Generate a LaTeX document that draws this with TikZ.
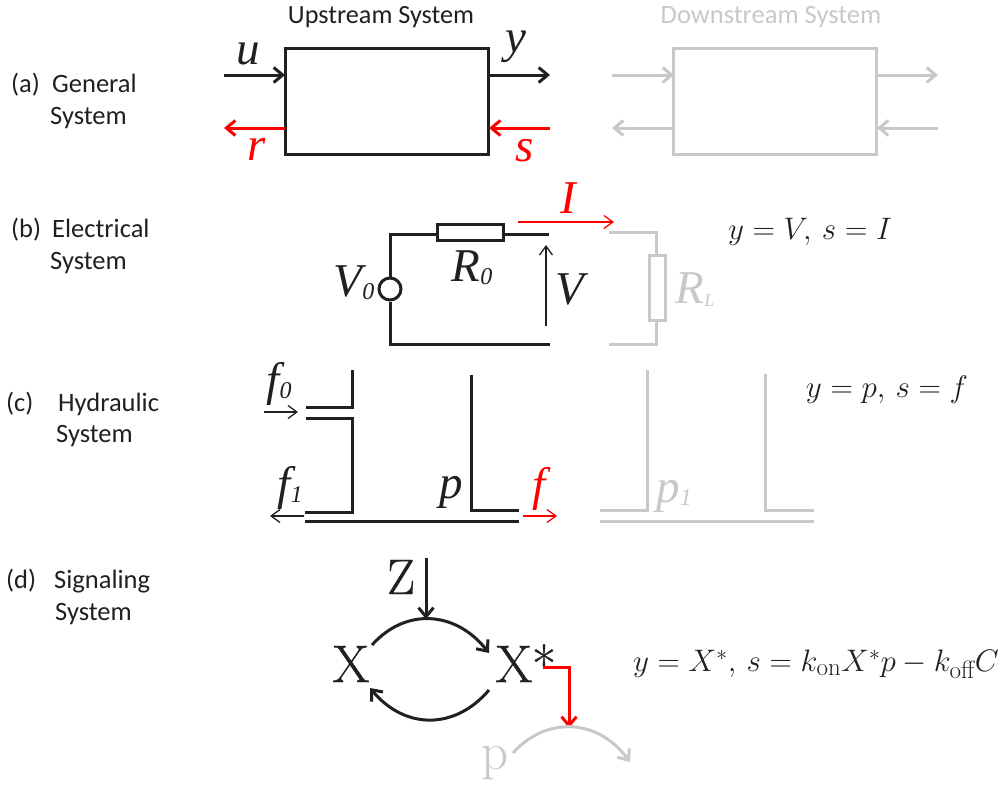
\documentclass[tikz,border=0pt]{standalone}
\usepackage{graphicx}
\usepackage{fontspec}
\setmainfont{Carlito}
\newfontfamily\timesf{Liberation Serif}
\newfontfamily\lmf{Latin Modern Roman}
\newfontfamily\lmb{Latin Modern Roman}[FakeBold=0.6]
\usetikzlibrary{arrows.meta}
\definecolor{ink}{RGB}{32,32,32}
\definecolor{ghost}{RGB}{200,200,200}
\definecolor{sig}{RGB}{255,0,0}
\tikzset{
 x=1pt,y=-1pt,
 lab/.style={font=\fontsize{26.5}{28}\selectfont,anchor=base west,text=ink,inner sep=0},
 var/.style={inner sep=0,text=ink},
 thick line/.style={line width=3pt,draw=ink},
 ghostline/.style={line width=3pt,draw=ghost},
 redline/.style={line width=3pt,draw=sig},
 tip/.style={-{Straight Barb[length=9pt,width=15pt,line width=3pt]}},
 thintip/.style={-{Straight Barb[length=9pt,width=13pt,line width=1.3pt]},line width=1.3pt},
}
\newcommand{\tvar}[2]{\fontsize{#1}{#1}\selectfont\timesf\itshape #2}
\newcommand{\tsub}[2]{\raisebox{-3pt}{\fontsize{#1}{#1}\selectfont\timesf\itshape #2}}
\newcommand{\eqtext}[1]{\hbox{\fontsize{20}{20}\selectfont\lmf #1}}
\newcommand{\eqn}[1]{\scalebox{1.25}{\fontsize{24}{26}\selectfont\ensuremath{#1}}}
\begin{document}
\begin{tikzpicture}
\useasboundingbox (0,0) rectangle (1000,790);
% labels
\node[lab] (la) at (11,92) {(a)};
\node[lab] (la1) at (52,92) {General};
\node[lab] (la2) at (50,124) {System};
\node[lab] (lb) at (11,237) {(b)};
\node[lab] (lb1) at (52,237) {Electrical};
\node[lab] (lb2) at (50,269) {System};
\node[lab] (lc) at (6,411) {(c)};
\node[lab] (lc1) at (58,411) {Hydraulic};
\node[lab] (lc2) at (56,442) {System};
\node[lab] (ld) at (6,588) {(d)};
\node[lab] (ld1) at (54,588) {Signaling};
\node[lab] (ld2) at (55,620) {System};
% (a) upstream
\node[font=\fontsize{26.2}{28}\selectfont,text=ink,inner sep=0] (ut) at (381,17) {Upstream System};
\node[draw=ink,line width=3pt,minimum width=203pt,minimum height=106pt,inner sep=0] (ub) at (386.5,101) {};
\coordinate (uin) at (224,75); \coordinate (uina) at (285,75);
\coordinate (uout) at (488,75); \coordinate (uouta) at (550,75);
\coordinate (rs) at (285,128); \coordinate (re) at (224,128);
\coordinate (ss) at (550,128); \coordinate (se) at (489,128);
\draw[thick line,tip] (uin) -- (uina);
\draw[thick line,tip] (uout) -- (uouta);
\draw[redline,tip] (rs) -- (re);
\draw[redline,tip] (ss) -- (se);
\node[var] (u) at (248,54) {\tvar{47}{u}};
\node[var] (y) at (516,47) {\tvar{47}{y}};
\node[var,text=sig] (r) at (257,149) {\tvar{47}{r}};
\node[var,text=sig] (s) at (525,151) {\tvar{47}{s}};
% (a) downstream
\node[font=\fontsize{26.5}{28}\selectfont,text=ghost,inner sep=0] (dt) at (771,17) {Downstream System};
\node[draw=ghost,line width=3pt,minimum width=203pt,minimum height=106pt,inner sep=0] (db) at (775,101) {};
\coordinate (din) at (612,75); \coordinate (dina) at (674,75);
\coordinate (dout) at (876,75); \coordinate (douta) at (938,75);
\coordinate (drs) at (674,128); \coordinate (dre) at (612,128);
\coordinate (dss) at (938,128); \coordinate (dse) at (877,128);
\draw[ghostline,tip] (din) -- (dina);
\draw[ghostline,tip] (dout) -- (douta);
\draw[ghostline,tip] (drs) -- (dre);
\draw[ghostline,tip] (dss) -- (dse);
% (b)
\node[draw=ink,line width=3pt,minimum width=66pt,minimum height=16pt,inner sep=0] (r0) at (470,232.5) {};
\node[draw=ink,line width=3pt,circle,minimum size=22pt,inner sep=0] (v0) at (390,289) {};
\coordinate (ctl) at (390,234); \coordinate (ctr) at (549,234);
\coordinate (cbl) at (390,344); \coordinate (cbr) at (550,344);
\draw[thick line] (v0.north) -- (ctl) -- (r0.west |- ctl);
\draw[thick line] (r0.east |- ctr) -- (ctr);
\draw[thick line] (v0.south) -- (cbl) -- (cbr);
\coordinate (vs) at (546,326); \coordinate (ve) at (546,245);
\draw[ink,thintip] (vs) -- (ve);
\coordinate (is) at (518,222); \coordinate (ie) at (614,222);
\draw[sig,thintip] (is) -- (ie);
\node[var] (v0l) at (354,283) {\tvar{47}{V}\tsub{24}{0}};
\node[var] (r0l) at (472,268) {\tvar{47}{R}\tsub{24}{0}};
\node[var] (vl) at (570,289) {\tvar{47}{V}};
\node[var,text=sig] (il) at (568,198) {\tvar{47}{I}};
\node[draw=ghost,line width=3pt,minimum width=16pt,minimum height=65pt,inner sep=0] (rl) at (657,288) {};
\coordinate (gt) at (609,232); \coordinate (gtc) at (656,232);
\coordinate (gb) at (609,344); \coordinate (gbc) at (656,344);
\draw[ghostline] (gt) -- (gtc) -- (gtc |- rl.north);
\draw[ghostline] (gbc |- rl.south) -- (gbc) -- (gb);
\node[var,text=ghost] (rll) at (695,290) {\tvar{47}{R}\tsub{18}{L}};
\node[inner sep=0,text=ink] (eb) at (810,232) {\eqn{y=V,\,s=I}};
% (c)
\coordinate (a1) at (352,370); \coordinate (a2) at (352,407); \coordinate (a3) at (306,407);
\draw[thick line] (a1) -- (a2) -- (a3);
\coordinate (b1) at (306,418); \coordinate (b2) at (352,418); \coordinate (b3) at (352,512); \coordinate (b4) at (305,512);
\draw[thick line] (b1) -- (b2) -- (b3) -- (b4);
\coordinate (c1) at (305,521); \coordinate (c2) at (519,521);
\draw[thick line] (c1) -- (c2);
\coordinate (d1) at (471,375); \coordinate (d2) at (471,510); \coordinate (d3) at (519,510);
\draw[thick line] (d1) -- (d2) -- (d3);
\coordinate (f0s) at (264,412); \coordinate (f0e) at (298,412);
\draw[ink,thintip] (f0s) -- (f0e);
\coordinate (f1s) at (304,516); \coordinate (f1e) at (270,516);
\draw[ink,thintip] (f1s) -- (f1e);
\coordinate (fs) at (523,516); \coordinate (fe) at (557,516);
\draw[sig,thintip] (fs) -- (fe);
\node[var] (f0l) at (279,384) {\tvar{47}{f}\tsub{24}{0}};
\node[var] (f1l) at (290,488) {\tvar{47}{f}\tsub{24}{1}};
\node[var] (pl) at (451,492) {\tvar{47}{p}};
\node[var,text=sig] (fl) at (539,489) {\tvar{47}{f}};
\coordinate (g1) at (647,370); \coordinate (g2) at (647,510); \coordinate (g3) at (600,510);
\draw[ghostline] (g1) -- (g2) -- (g3);
\coordinate (h1) at (600,521); \coordinate (h2) at (814,521);
\draw[ghostline] (h1) -- (h2);
\coordinate (k1) at (765,374); \coordinate (k2) at (765,510); \coordinate (k3) at (814,510);
\draw[ghostline] (k1) -- (k2) -- (k3);
\node[var,text=ghost] (p1l) at (674,496) {\tvar{47}{p}\tsub{24}{1}};
\node[inner sep=0,text=ink] (ec) at (887,390) {\eqn{y=p,\,s=f}};
% (d)
\node[inner sep=0,text=ink] (zl) at (401,577) {\fontsize{50}{50}\selectfont\lmb Z};
\node[inner sep=0,text=ink] (x) at (351,664) {\fontsize{53}{53}\selectfont\lmb X};
\node[inner sep=0,text=ink] (xs) at (514,664) {\fontsize{53}{53}\selectfont\lmb X};
\node[inner sep=0,text=ink] (star) at (544,664) {\fontsize{53}{53}\selectfont\lmb *};
\coordinate (zs) at (426,558); \coordinate (ze) at (426,619);
\draw[thick line,tip] (zs) -- (ze);
\coordinate (t1) at (372,645); \coordinate (t2) at (489,653);
\coordinate (t3) at (489,690); \coordinate (t4) at (370,688);
\draw[thick line,tip] (t1) .. controls (405,608) and (455,610) .. (t2);
\draw[thick line,tip] (t3) .. controls (455,730) and (405,730) .. (t4);
\coordinate (m1) at (543,667); \coordinate (m2) at (569,667); \coordinate (m3) at (569,728);
\draw[redline,tip] (m1) -- (m2) -- (m3);
\coordinate (n1) at (513,753); \coordinate (n2) at (630,762);
\draw[ghostline,tip] (n1) .. controls (545,717) and (597,717) .. (n2);
\node[inner sep=0,text=ghost] (pg) at (495,763) {\fontsize{53}{53}\selectfont\lmf p};
\node[inner sep=0,text=ink] (ed) at (816,664) {\eqn{y=X^{*},\,s=k_{\eqtext{on}}X^{*}p-k_{\eqtext{off}}C}};
\end{tikzpicture}
\end{document}
